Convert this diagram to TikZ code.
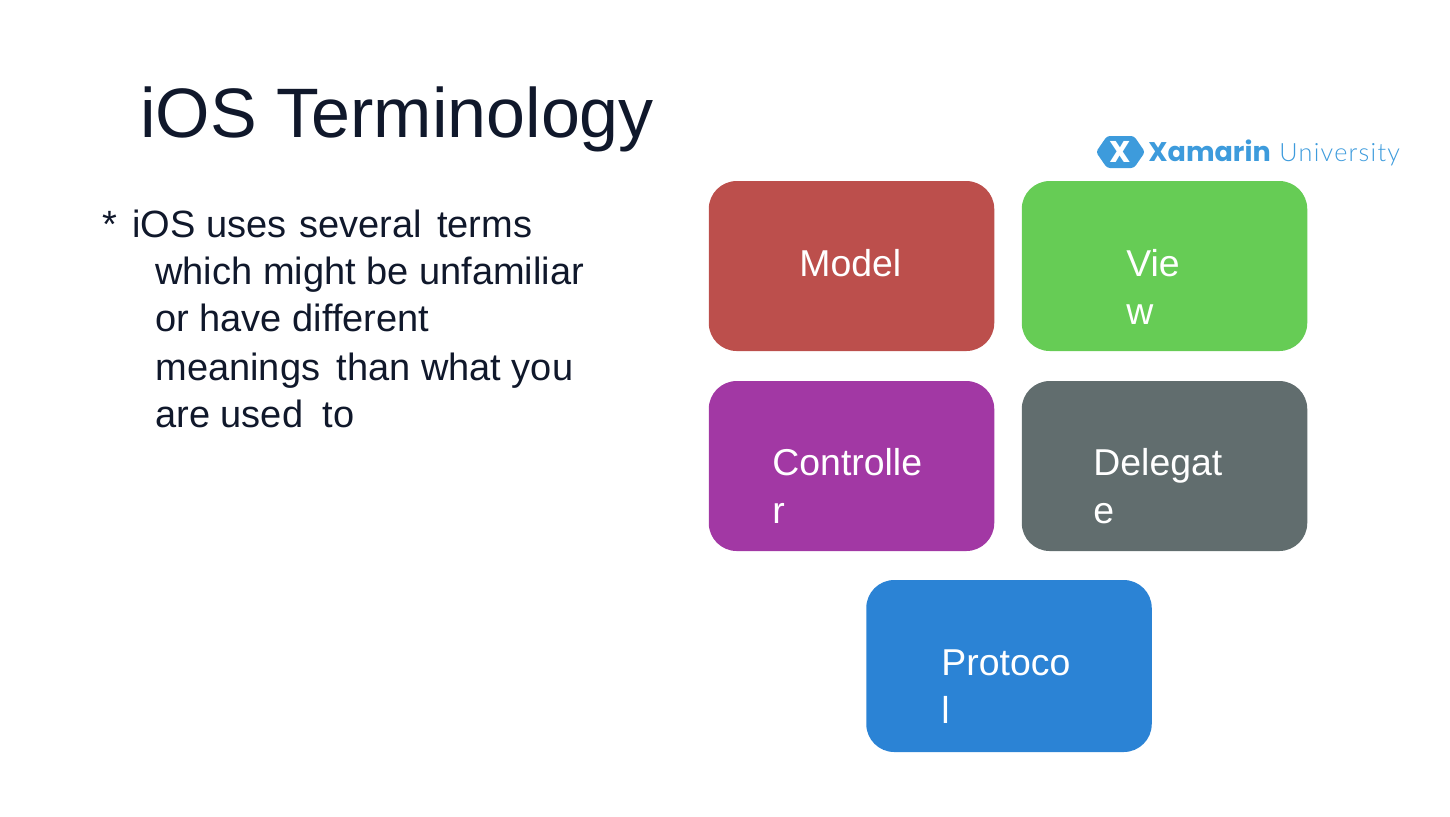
\documentclass[tikz,border=0pt]{standalone}
\usepackage{fontspec}
\setmainfont{Liberation Sans}
\newfontfamily\logofont{Poppins}
\newfontfamily\logolight[LetterSpace=5]{Lato Light}
\usetikzlibrary{calc}
\definecolor{inkcol}{HTML}{10182B}
\definecolor{modelcol}{HTML}{BC4F4C}
\definecolor{viewcol}{HTML}{66CC55}
\definecolor{controllercol}{HTML}{A238A4}
\definecolor{delegatecol}{HTML}{616D6E}
\definecolor{protocolcol}{HTML}{2B83D5}
\definecolor{logocol}{HTML}{3D9BDC}
\tikzset{
   termbox/.style={rounded corners=14pt, minimum width=142.75pt, minimum height=85pt, inner sep=0pt},
   termtext/.style={anchor=base west, inner sep=0pt, text=white, align=left,
      font=\fontsize{18.7}{24}\selectfont},
   bodytext/.style={anchor=base west, inner sep=0pt, text=inkcol,
      font=\fontsize{19}{19}\selectfont},
    }

\begin{document}
\begin{tikzpicture}[x=0.5pt, y=-0.5pt]
    \useasboundingbox (0,0) rectangle (1450,816);
    \node[anchor=base west, inner sep=0pt, text=inkcol, font=\fontsize{35}{40}\selectfont] (title) at (140,137) {iOS Terminology};
    % body text
    \node[bodytext] (star) at (102,237) {*};
    \node[bodytext] (line1) at (132,237) {iOS uses\hspace{1pt} several\hspace{2.5pt} terms};
    \node[bodytext] (line2) at (155,284) {which might be unfamiliar};
    \node[bodytext] (line3) at (155,331) {or have different};
    \node[bodytext] (line4) at (155,380) {meanings\hspace{3pt} than what you};
    \node[bodytext] (line5) at (155,427) {are used\hspace{4.5pt} to};
    % boxes
    \node[termbox, fill=modelcol] (model) at (851.5,266) {};
    \node[termbox, fill=viewcol] (view) at (1164.5,266) {};
    \node[termbox, fill=controllercol] (controller) at (851.5,466) {};
    \node[termbox, fill=delegatecol] (delegate) at (1164.5,466) {};
    \node[termbox, fill=protocolcol, minimum height=86pt] (protocol) at (1009,666) {};
    \node[termtext] (modeltext) at (799,276) {Model};
    \node[termtext] (viewtext) at (1126,324) {Vie\\w};
    \node[termtext] (controllertext) at (772,523) {Controlle\\r};
    \node[termtext] (delegatetext) at (1093,523) {Delegat\\e};
    \node[termtext] (protocoltext) at (941,723) {Protoco\\l};
    % logo
    \fill[logocol, rounded corners=1.5pt] (1096,152) -- (1107,136) -- (1134,136) -- (1145,152) -- (1134,168) -- (1107,168) -- cycle;
    \node[anchor=base, inner sep=0pt, text=white, font=\logofont\bfseries\fontsize{15}{15}\selectfont] (logox) at (1120.5,162) {X};
    \node[anchor=base west, inner sep=0pt, text=logocol, font=\logofont\bfseries\fontsize{13.5}{13}\selectfont] (logoname) at (1148,161) {Xamarin};
    \node[anchor=base west, inner sep=0pt, text=logocol, font=\logolight\fontsize{12.6}{12}\selectfont] (logouni) at (1279,161) {University};
\end{tikzpicture}
\end{document}
